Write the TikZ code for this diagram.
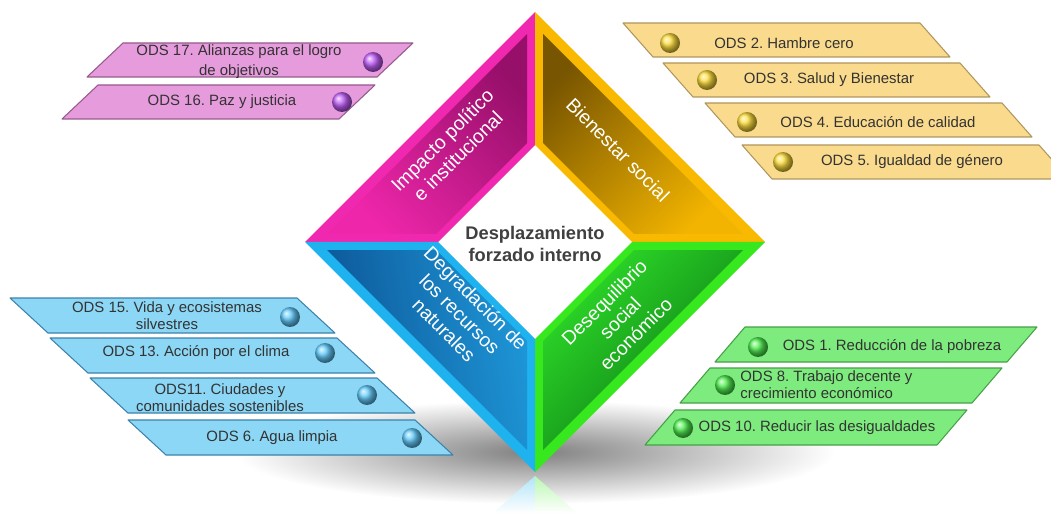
\documentclass[tikz,border=0pt]{standalone}
\usepackage{fontspec}
\setmainfont{Liberation Sans}
\usepackage{tikz}
\frenchspacing

\definecolor{magRim}{RGB}{240,40,175}
\definecolor{magDark}{RGB}{150,15,105}
\definecolor{magLight}{RGB}{238,38,170}
\definecolor{oroRim}{RGB}{248,185,0}
\definecolor{oroDark}{RGB}{120,85,0}
\definecolor{oroLight}{RGB}{242,180,0}
\definecolor{verRim}{RGB}{55,232,30}
\definecolor{verDark}{RGB}{10,115,20}
\definecolor{verLight}{RGB}{45,218,40}
\definecolor{azuRim}{RGB}{30,178,238}
\definecolor{azuDark}{RGB}{12,85,150}
\definecolor{azuLight}{RGB}{30,150,215}
\definecolor{rosaBar}{RGB}{230,155,220}
\definecolor{rosaLin}{RGB}{150,90,140}
\definecolor{oroBar}{RGB}{250,218,140}
\definecolor{oroLin}{RGB}{175,150,95}
\definecolor{azuBar}{RGB}{140,215,245}
\definecolor{azuLin}{RGB}{60,130,170}
\definecolor{verBar}{RGB}{125,235,125}
\definecolor{verLin}{RGB}{70,160,70}
\definecolor{bolaMor}{RGB}{195,95,250}
\definecolor{bolaOro}{RGB}{255,222,60}
\definecolor{bolaAzu}{RGB}{100,205,255}
\definecolor{bolaVer}{RGB}{80,240,80}

\begin{document}
\begin{tikzpicture}[x=0.02cm, y=-0.02cm,
		ods/.style={font=\fontsize{8.5}{9.8}\selectfont, text=black!80, inner sep=0pt, align=center},
		eje/.style={font=\fontsize{11}{12.7}\selectfont, text=white, inner sep=0pt, align=center},
		bola/.style={circle, minimum size=0.4cm, inner sep=0pt},
		barra/.style={line width=0.6pt, line join=round}]
	\clip (0,0) rectangle (1051,513);

	% sombra y reflejo
	\shade[inner color=black!50, outer color=white] (535,452) ellipse [x radius=300, y radius=52];
	\shade[top color=azuRim!35, bottom color=white] (535,476) -- (493,513) -- (535,513) -- cycle;
	\shade[top color=verRim!35, bottom color=white] (535,476) -- (577,513) -- (535,513) -- cycle;

	% rombo
	\fill[magRim] (305,242) -- (535,12) -- (535,145) -- (438,242) -- cycle;
	\shade[top color=magDark, bottom color=magLight, shading angle=-45] (327,234) -- (527,34) -- (527,143) -- (436,234) -- cycle;
	\fill[oroRim] (535,12) -- (765,242) -- (632,242) -- (535,145) -- cycle;
	\shade[top color=oroDark, bottom color=oroLight, shading angle=45] (543,34) -- (743,234) -- (634,234) -- (543,143) -- cycle;
	\fill[verRim] (765,242) -- (535,472) -- (535,339) -- (632,242) -- cycle;
	\shade[top color=verDark, bottom color=verLight, shading angle=-135] (743,250) -- (543,450) -- (543,341) -- (634,250) -- cycle;
	\fill[azuRim] (535,472) -- (305,242) -- (438,242) -- (535,339) -- cycle;
	\shade[top color=azuDark, bottom color=azuLight, shading angle=100] (527,450) -- (327,250) -- (436,250) -- (527,341) -- cycle;

	\node[eje, rotate=45] (imp) at (450,148) {Impacto político\\e institucional};
	\node[eje, rotate=-45] (bie) at (618,150) {Bienestar social};
	\node[eje, rotate=45] (des) at (620,318) {Desequilibrio\\social\\económico};
	\node[eje, rotate=-45] (deg) at (460,314) {Degradación de\\los recursos\\naturales};
	\node[font=\fontsize{10.4}{12.5}\selectfont\bfseries, text=black!75, align=center] (dfi) at (535,244) {Desplazamiento\\forzado interno};

	% barras rosa
	\foreach \x/\y/\w in {123/43/290, 98/85/277}
		\draw[barra, draw=rosaLin, fill=rosaBar] (\x,\y) -- ++(\w,0) -- ++(-36,34) -- ++(-\w,0) -- cycle;
	\node[ods, font=\fontsize{8.5}{11.3}\selectfont] (o17) at (239,62) {ODS 17. Alianzas para el logro\\de objetivos};
	\node[ods] (o16) at (222,102) {ODS 16. Paz y justicia};
	\node[bola, ball color=bolaMor] (b17) at (373,62) {};
	\node[bola, ball color=bolaMor] (b16) at (342,102) {};

	% barras oro
	\foreach \x/\y in {623/23, 663/63, 705/103, 742/145}
		\draw[barra, draw=oroLin, fill=oroBar] (\x,\y) -- ++(297,0) -- ++(30,34) -- ++(-297,0) -- cycle;
	\node[ods] (o2) at (784,43) {ODS 2. Hambre cero};
	\node[ods] (o3) at (829,80) {ODS 3. Salud y Bienestar};
	\node[ods] (o4) at (878,122) {ODS 4. Educación de calidad};
	\node[ods] (o5) at (912,162) {ODS 5. Igualdad de género};
	\node[bola, ball color=bolaOro] (b2) at (670,43) {};
	\node[bola, ball color=bolaOro] (b3) at (707,80) {};
	\node[bola, ball color=bolaOro] (b4) at (747,122) {};
	\node[bola, ball color=bolaOro] (b5) at (783,162) {};

	% barras azules
	\foreach \x/\y in {10/298, 50/338, 90/378, 128/420}
		\draw[barra, draw=azuLin, fill=azuBar] (\x,\y) -- ++(287,0) -- ++(38,35) -- ++(-287,0) -- cycle;
	\node[ods] (o15) at (167,316) {ODS 15. Vida y ecosistemas\\silvestres};
	\node[ods] (o13) at (196,353) {ODS 13. Acción por el clima};
	\node[ods] (o11) at (220,398) {ODS11. Ciudades y\\comunidades sostenibles};
	\node[ods] (o6) at (272,438) {ODS 6. Agua limpia};
	\node[bola, ball color=bolaAzu] (b15) at (290,317) {};
	\node[bola, ball color=bolaAzu] (b13) at (325,353) {};
	\node[bola, ball color=bolaAzu] (b11) at (367,395) {};
	\node[bola, ball color=bolaAzu] (b6) at (412,438) {};

	% barras verdes
	\foreach \x/\y in {745/327, 710/368, 675/410}
		\draw[barra, draw=verLin, fill=verBar] (\x,\y) -- ++(292,0) -- ++(-30,35) -- ++(-292,0) -- cycle;
	\node[ods] (o1) at (892,347) {ODS 1. Reducción de la pobreza};
	\node[ods, align=left, anchor=west] (o8) at (740,385) {ODS 8. Trabajo decente y\\crecimiento económico};
	\node[ods] (o10) at (817,428) {ODS 10. Reducir las desigualdades};
	\node[bola, ball color=bolaVer] (b1) at (758,347) {};
	\node[bola, ball color=bolaVer] (b8) at (725,385) {};
	\node[bola, ball color=bolaVer] (b10) at (683,428) {};
\end{tikzpicture}
\end{document}
